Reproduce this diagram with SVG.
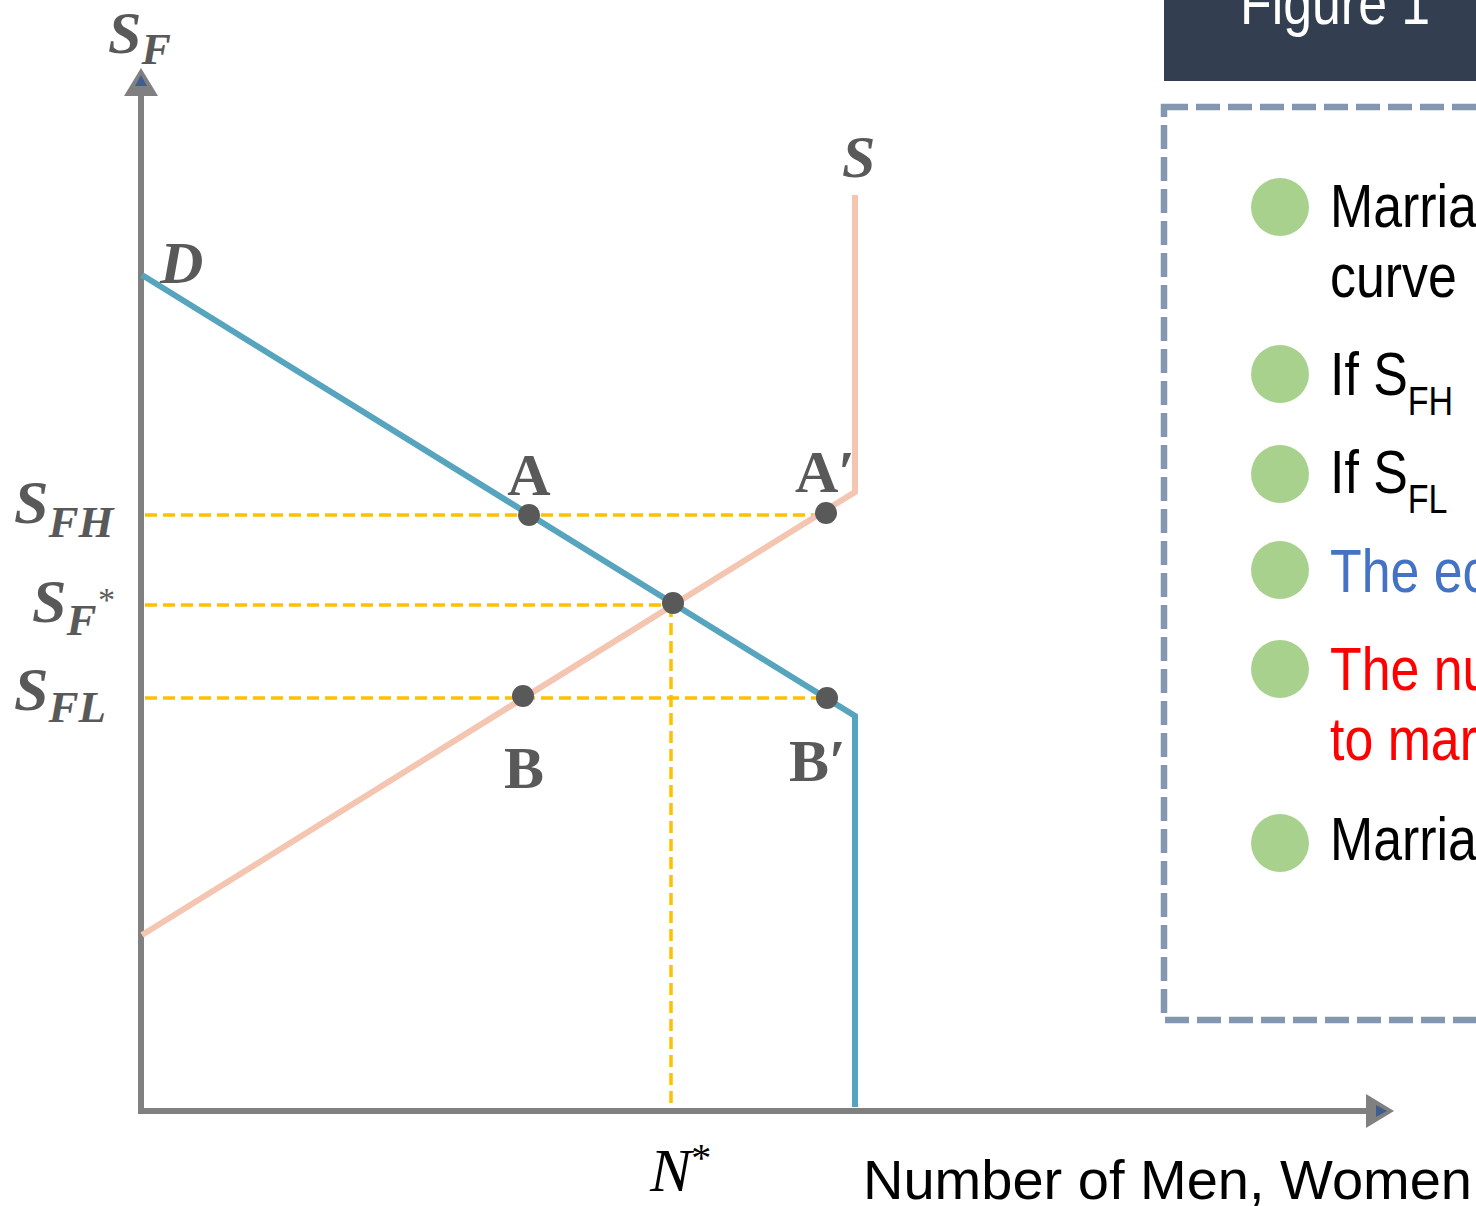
<svg xmlns="http://www.w3.org/2000/svg" width="1476" height="1206" viewBox="0 0 1476 1206">
<style>
.axis{stroke:#808080;stroke-width:6;fill:none}
.guide{stroke:#FFC000;stroke-width:3.5;stroke-dasharray:12 6;fill:none}
.demand{stroke:#57A4BE;stroke-width:6;fill:none;stroke-linejoin:miter}
.supply{stroke:#F4C5B0;stroke-width:6;fill:none;stroke-linejoin:miter}
.dot{fill:#595959}
.math{font-family:"Liberation Serif","DejaVu Serif",serif;font-style:italic;font-weight:bold;fill:#595959}
.pt{font-family:"Liberation Serif","DejaVu Serif",serif;font-weight:bold;fill:#595959;font-size:60px}
.nstar{font-family:"Liberation Serif","DejaVu Serif",serif;font-style:italic;fill:#000;font-size:62px}
.xlab{font-family:"Liberation Sans",Arial,sans-serif;font-size:56px;fill:#000}
.leg{font-family:"Liberation Sans",Arial,sans-serif;font-size:61px;fill:#000}
.bullet{fill:#A9D18E}
</style>
<defs>
<marker id="arr" viewBox="0 0 30 34" refX="4" refY="17" markerWidth="30" markerHeight="34" markerUnits="userSpaceOnUse" orient="auto">
<polygon points="0,0 28,17 0,34" fill="#808080"/>
<polygon points="10,11 21,17 10,23" fill="#3F5E8E"/>
</marker>
</defs>

<g id="axes">
<line class="axis" x1="141" y1="1111" x2="141" y2="92" marker-end="url(#arr)"/>
<line class="axis" x1="138" y1="1111" x2="1370" y2="1111" marker-end="url(#arr)"/>
</g>

<g id="connectors">
<line class="guide" x1="145" y1="515" x2="826" y2="515"/>
<line class="guide" x1="145" y1="605" x2="673" y2="605"/>
<line class="guide" x1="145" y1="698" x2="827" y2="698"/>
<line class="guide" x1="671" y1="605" x2="671" y2="1109"/>
<polyline id="curve-D" class="demand" points="142,275 855,716 855,1107"/>
<polyline id="curve-S" class="supply" points="142,935 855,492 855,195"/>
</g>

<g id="point-A"><circle class="dot" cx="529" cy="515" r="11"/><text class="pt" x="529" y="495" text-anchor="middle">A</text></g>
<g id="point-A-prime"><circle class="dot" cx="826" cy="513" r="11"/><text class="pt" x="795" y="492">A′</text></g>
<g id="point-E"><circle class="dot" cx="673" cy="603" r="11"/></g>
<g id="point-B"><circle class="dot" cx="523" cy="696" r="11"/><text class="pt" x="524" y="788" text-anchor="middle">B</text></g>
<g id="point-B-prime"><circle class="dot" cx="827" cy="698" r="11"/><text class="pt" x="789" y="781">B′</text></g>

<g id="labels">
<text class="math" x="108" y="53" font-size="60">S<tspan font-size="44" dy="11">F</tspan></text>
<text class="math" x="160" y="283" font-size="60">D</text>
<text class="math" x="842" y="177" font-size="60">S</text>
<text class="math" x="14" y="523" font-size="62">S<tspan font-size="45" dy="14">FH</tspan></text>
<text class="math" x="32" y="622" font-size="62">S<tspan font-size="45" dy="13">F</tspan><tspan font-size="34" dy="-24" font-weight="normal">*</tspan></text>
<text class="math" x="14" y="710" font-size="62">S<tspan font-size="45" dy="12">FL</tspan></text>
<text class="nstar" x="650" y="1191">N<tspan font-size="40" dy="-20" font-style="normal">*</tspan></text>
<text class="xlab" x="863" y="1199">Number of Men, Women</text>
</g>

<g id="legend-header">
<rect x="1164" y="0" width="312" height="81" fill="#333F50"/>
<text class="leg" transform="translate(1240,24) scale(0.85,1)" font-size="66" fill="#FFFFFF" style="fill:#fff">Figure 1</text>
</g>

<g id="legend-box">
<rect x="1164" y="107" width="340" height="913" fill="none" stroke="#8497B0" stroke-width="6.5" stroke-dasharray="24 8"/>
</g>

<g id="legend-item-1">
<circle class="bullet" cx="1280" cy="207" r="29"/>
<text class="leg" transform="translate(1330,227) scale(0.85,1)">Marria</text>
<text class="leg" transform="translate(1330,297) scale(0.85,1)">curve</text>
</g>
<g id="legend-item-2">
<circle class="bullet" cx="1280" cy="374" r="29"/>
<text class="leg" transform="translate(1330,395) scale(0.85,1)">If S<tspan font-size="40" dy="20">FH</tspan></text>
</g>
<g id="legend-item-3">
<circle class="bullet" cx="1280" cy="474" r="29"/>
<text class="leg" transform="translate(1330,493) scale(0.85,1)">If S<tspan font-size="40" dy="20">FL</tspan></text>
</g>
<g id="legend-item-4">
<circle class="bullet" cx="1280" cy="570" r="29"/>
<text class="leg" transform="translate(1330,592) scale(0.85,1)" style="fill:#4472C4">The ec</text>
</g>
<g id="legend-item-5">
<circle class="bullet" cx="1280" cy="669" r="29"/>
<text class="leg" transform="translate(1330,690) scale(0.85,1)" style="fill:#FF0000">The nu</text>
<text class="leg" transform="translate(1330,760) scale(0.85,1)" style="fill:#FF0000">to mar</text>
</g>
<g id="legend-item-6">
<circle class="bullet" cx="1280" cy="843" r="29"/>
<text class="leg" transform="translate(1330,860) scale(0.85,1)">Marria</text>
</g>
</svg>
